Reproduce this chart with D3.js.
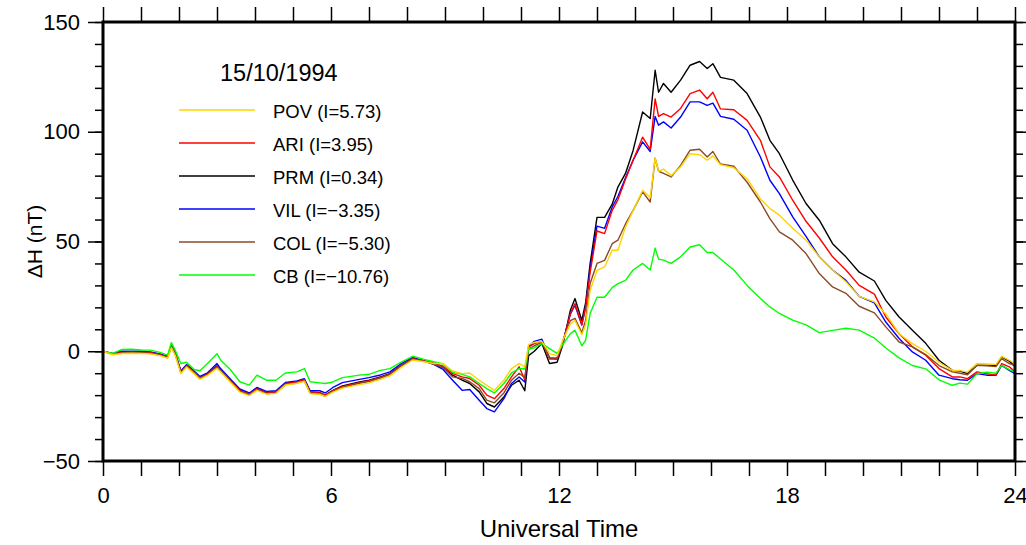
<!DOCTYPE html>
<html>
<head>
<meta charset="utf-8">
<title>15/10/1994 ΔH</title>
<script src="https://d3js.org/d3.v7.min.js"></script>
<style>
  body { margin: 0; background: #fff; }
  text { font-family: "Liberation Sans", Arial, Helvetica, sans-serif; fill: #000; }
</style>
</head>
<body>
<div id="chart"></div>
<script>
// time of day (UT hours) and Delta H (nT) for each station
var hours = [0,0.25,0.5,0.75,1,1.25,1.5,1.7,1.8,1.9,2.05,2.2,2.4,2.55,2.75,3,3.1,3.35,3.6,3.85,
  4.05,4.3,4.55,4.8,5.1,5.3,5.45,5.7,5.85,6.05,6.3,6.75,7,7.3,7.55,7.85,8.15,8.45,8.7,8.95,
  9.2,9.45,9.65,9.9,10.1,10.3,10.55,10.75,10.95,11.1,11.2,11.35,11.55,11.75,11.95,12.1,12.3,12.42,12.6,12.7,
  12.82,13,13.2,13.4,13.55,13.75,13.95,14.2,14.4,14.53,14.62,14.75,14.95,15.2,15.45,15.7,15.9,16.05,16.25,16.6,
  16.95,17.3,17.55,17.8,18.15,18.5,18.85,19.2,19.55,19.9,20.3,20.6,20.95,21.3,21.65,22,22.35,22.55,22.75,23,
  23.25,23.5,23.65,23.85,24];

var prm = [0,-1.2,-0.5,-0.4,-0.5,-0.6,-1.5,-2.5,2.2,-1,-9.3,-6.4,-9.4,-12,-10.3,-6.6,-8.6,-13.2,-17.8,-19.6,
  -17,-18.9,-18.5,-14.7,-13.9,-12.9,-18.5,-18.9,-20,-17.8,-15.8,-14,-13.2,-11.7,-10.2,-6.4,-3.3,-4.4,-5.6,-7.4,
  -10.9,-13.2,-14.7,-18.5,-23.8,-25.4,-20.8,-15.5,-13.2,-18,-2,0,3.5,-5.6,-5,3,18.7,24,14,22,
  40,61,61,67,74.8,81,91.5,109,106,128,118,122,118,123.5,130.3,132,128.8,131,124.8,123.5,
  117.4,106.7,96.1,90,78,67.3,59.7,49,43,36,32,23.2,15.6,9.6,3.6,-4.1,-8.7,-9,-10.2,-6.4,
  -6.4,-6.4,-2.6,-4.5,-7];

var pov = [0,-1.6,-1,-0.9,-1,-1.2,-2,-3.2,1.6,-1.8,-10.2,-7.2,-10.3,-12.8,-11,-7.8,-9.5,-14,-18.6,-20.2,
  -17.8,-19.5,-19.2,-15.4,-14.6,-13.6,-19.3,-19.6,-20.6,-18.6,-16.8,-15.2,-14.4,-12.8,-11.2,-7.3,-4,-4.8,-5.6,-5.6,
  -9,-10.2,-9.9,-13.2,-15.5,-17.8,-13.2,-7.9,-5.6,-7,3,4,4.5,-1.1,-2,5,12.6,14,7.5,12,
  27.8,36.8,38.4,46,46,56.6,64,73.3,70,88,82,83,80,84,90,89.5,87,89,85,83.6,
  78.6,69.4,65,62,56,50.6,43,37,31.7,25,22.5,17,8,3.5,0,-5,-8.7,-8.8,-9.5,-5.6,
  -5.8,-6,-2.3,-4.1,-5.5];

var ari = [0,-1.2,-0.5,-0.4,-0.5,-0.6,-1.5,-2.6,2.2,-1,-9.5,-6.5,-9.5,-12.1,-10.4,-6.8,-8.7,-13.3,-17.9,-19.6,
  -17.1,-19,-18.6,-14.8,-14,-13,-18.6,-19,-20,-18,-16,-14.3,-13.4,-11.9,-10.4,-6.6,-3.4,-4.4,-5.4,-6.8,
  -10.2,-11.7,-12.4,-15.5,-20,-21.6,-17,-11.7,-7.1,-13,2,3.5,4.5,-3.5,-3.5,4,17,21.7,12,20,
  36,54.8,53.6,64.2,69,78.4,87,97.5,92,115,107,108.3,106.7,110.6,117.4,119,115,118,110.4,110,
  105.2,96.1,84,79.4,68.8,59.2,51.6,43,37,30,26,15.6,8,2,-1.8,-7.9,-11.7,-11.7,-12.5,-9.4,
  -10.2,-10.9,-5.6,-7.1,-9.4];

var vil = [0,-1,0,0,0,-0.3,-1.2,-2.3,2.5,-0.8,-9,-6,-9,-11.5,-9.8,-5.6,-8,-12.6,-17.2,-19,
  -16.5,-18.3,-18,-14.2,-13.5,-12.5,-18,-18,-19,-16.5,-14.3,-12.8,-12,-10.8,-9.4,-5.6,-2.8,-4.4,-6,-8.3,
  -13.2,-17.8,-17.4,-22.3,-26.1,-27.6,-21.6,-14.7,-11.7,-14,2,4.5,5.5,-3,-3.5,4,17,21,12,20,
  38,57,56,65.7,70.5,79,87,95.4,91,107,103,104.5,101.7,106.7,113.6,113.6,112,113,107,105.7,
  100.7,88.5,77.9,71.8,61.2,52.3,43,37,32.3,25,22,13.3,5.8,-0.3,-4.1,-10.9,-12.5,-13,-13.2,-10.2,
  -10.9,-10.9,-6.4,-8.7,-10.2];

var col = [0,-1.4,-0.8,-0.6,-0.7,-0.9,-1.8,-2.8,2,-1.3,-9.6,-6.7,-9.8,-12.3,-10.6,-7.2,-9,-13.6,-18.2,-20,
  -17.5,-19.3,-19,-15.2,-14.5,-13.5,-19,-19.4,-20.5,-18.3,-16.4,-14.6,-13.8,-12.2,-10.6,-6.8,-3.6,-4.6,-5.8,-7.3,
  -11.7,-12.4,-13.9,-17,-22.3,-23.5,-19,-13.2,-10,-12,1,2.5,4,-3,-3,4.5,14,15,8.5,14,
  31,40,41.4,49,50.6,58,64.2,72.6,68,88,82,81,79.4,84.7,91.6,92,88.5,91,85.3,84.3,
  77,68,60.4,54.4,50.6,44.5,35.4,29.3,26.4,20.5,17.5,11.1,4.2,2,-1.5,-6.5,-9.4,-10,-10.7,-6.4,
  -6.6,-7,-3.4,-5.6,-6.4];

var cb = [0,-1,0.8,0.9,0.6,0.5,-0.5,-1.8,4,0.5,-5.6,-5,-8.3,-8.9,-5.6,-1.1,-4.1,-8.3,-13.9,-15.4,
  -10.9,-13.2,-13.2,-9.9,-9.4,-7.9,-13.9,-14.4,-14.7,-14,-12,-10.9,-10.5,-8.7,-7.9,-4.9,-2.3,-3.7,-4.8,-5.8,
  -9.6,-10.5,-11.7,-14.7,-17,-19,-14.7,-9.9,-7.9,-8,1,1.6,3.5,1.2,-1,3,8,9.6,2.5,5,
  17.3,24.6,24.6,29,30.8,32.3,37,40,37,47,42,41.5,40,43,47.5,48.5,45,45,42,37,
  30,24,20.2,17.2,14.2,12,8.5,9.5,10.5,9.6,6,1.5,-3,-6.5,-8,-13,-15.5,-14.5,-15,-10.2,
  -9.5,-10,-6.4,-8.4,-9.4];

var seriesNames = ["POV (I=5.73)", "ARI (I=3.95)", "PRM (I=0.34)", "VIL (I=\u22123.35)", "COL (I=\u22125.30)", "CB (I=\u221210.76)"];
var seriesData = [pov, ari, prm, vil, col, cb];
var seriesColors = ["#ffd500", "#ff0000", "#000000", "#0000ff", "#8b4a26", "#00ff00"];

var xMajor = [0, 6, 12, 18, 24];
var yMajor = [-50, 0, 50, 100, 150];

// layout (don't call these top/left: window.top is read-only)
var W = 1026, H = 545;
var padL = 103, padR = 1015, padT = 22, padB = 461;

var svg = d3.select("#chart").append("svg")
  .attr("width", W).attr("height", H);

var x = d3.scaleLinear().domain([0, 24]).range([padL, padR]);
var y = d3.scaleLinear().domain([-50, 150]).range([padB, padT]);

function styleAxis(g) {
  g.select(".domain").remove();
  g.selectAll(".tick line").attr("stroke", "#000").attr("stroke-width", 1.5);
  g.selectAll(".tick text").style("font-size", "22px").attr("fill", "#000");
}

// bottom axis: hourly ticks, labels every 6 h
svg.append("g")
  .attr("transform", "translate(0," + padB + ")")
  .call(d3.axisBottom(x).tickValues(d3.range(0, 25)).tickSize(15).tickSizeOuter(0).tickPadding(11)
    .tickFormat(function(d) { return xMajor.indexOf(d) >= 0 ? d : ""; }))
  .call(styleAxis);

// top axis
svg.append("g")
  .attr("transform", "translate(0," + padT + ")")
  .call(d3.axisTop(x).tickValues(d3.range(0, 25)).tickSize(15).tickSizeOuter(0).tickFormat(""))
  .call(styleAxis);

// left axis: minor every 10, major every 50
svg.append("g")
  .attr("transform", "translate(" + padL + ",0)")
  .call(d3.axisLeft(y).tickValues(d3.range(-50, 151, 10)).tickSize(8).tickSizeOuter(0).tickFormat(""))
  .call(styleAxis);
svg.append("g")
  .attr("transform", "translate(" + padL + ",0)")
  .call(d3.axisLeft(y).tickValues(yMajor).tickSize(15).tickSizeOuter(0).tickPadding(8)
    .tickFormat(function(d) { return d < 0 ? "\u2212" + (-d) : d; }))
  .call(styleAxis);

// right axis
svg.append("g")
  .attr("transform", "translate(" + padR + ",0)")
  .call(d3.axisRight(y).tickValues(d3.range(-50, 151, 10)).tickSize(8).tickSizeOuter(0).tickFormat(""))
  .call(styleAxis);
svg.append("g")
  .attr("transform", "translate(" + padR + ",0)")
  .call(d3.axisRight(y).tickValues(yMajor).tickSize(15).tickSizeOuter(0).tickFormat(""))
  .call(styleAxis);

// data lines (POV drawn last so it sits on top)
var line = d3.line()
  .x(function(d, i) { return x(hours[i]); })
  .y(function(d) { return y(d); });

var order = [2, 3, 1, 4, 5, 0];
order.forEach(function(k) {
  svg.append("path")
    .datum(seriesData[k])
    .attr("fill", "none")
    .attr("stroke", seriesColors[k])
    .attr("stroke-width", 1.4)
    .attr("stroke-linejoin", "round")
    .attr("d", line);
});

// frame
svg.append("rect")
  .attr("x", padL).attr("y", padT)
  .attr("width", padR - padL).attr("height", padB - padT)
  .attr("fill", "none").attr("stroke", "#000").attr("stroke-width", 3);

// axis titles
svg.append("text")
  .attr("x", (padL + padR) / 2).attr("y", 537)
  .attr("text-anchor", "middle")
  .style("font-size", "24px")
  .text("Universal Time");

svg.append("text")
  .attr("transform", "translate(42," + ((padT + padB) / 2) + ") rotate(-90)")
  .attr("text-anchor", "middle")
  .style("font-size", "21px")
  .text("\u0394H (nT)");

// legend
svg.append("text")
  .attr("x", 220).attr("y", 81)
  .style("font-size", "23.5px")
  .text("15/10/1994");

var legend = svg.append("g");
seriesNames.forEach(function(name, i) {
  var ly = 110 + i * 33;
  legend.append("line")
    .attr("x1", 179).attr("x2", 255)
    .attr("y1", ly).attr("y2", ly)
    .attr("stroke", seriesColors[i]).attr("stroke-width", 1.3);
  legend.append("text")
    .attr("x", 273).attr("y", ly + 8)
    .style("font-size", "18.5px")
    .text(name);
});
</script>
</body>
</html>
